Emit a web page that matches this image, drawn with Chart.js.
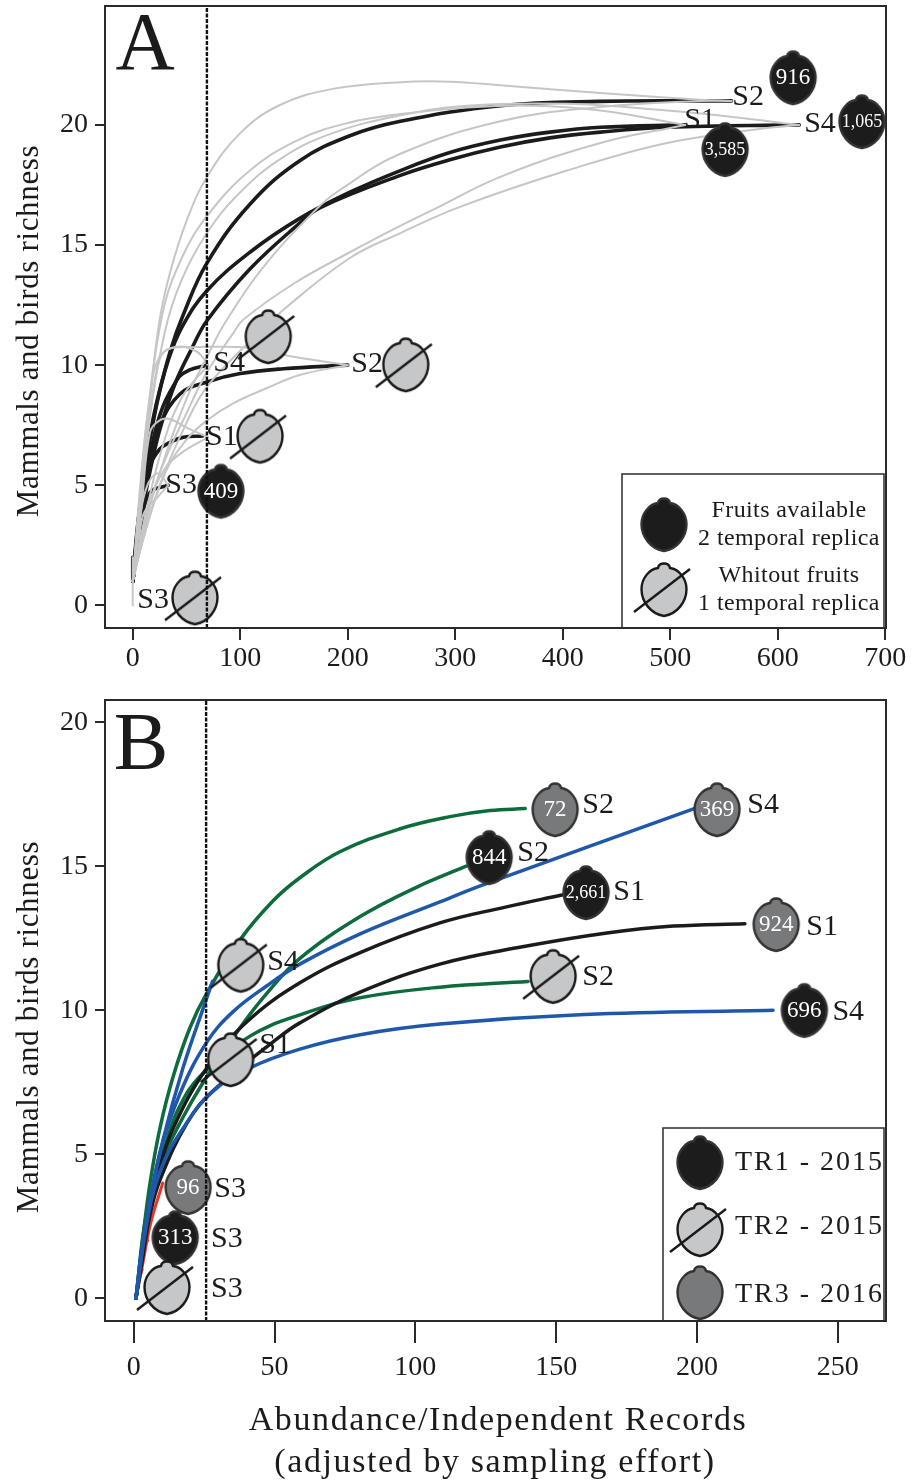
<!DOCTYPE html>
<html><head><meta charset="utf-8">
<script src="https://cdn.jsdelivr.net/npm/chart.js@4"></script>
<style>html,body{margin:0;padding:0;background:#fff}canvas{position:absolute;left:0}</style>
</head><body>
<canvas id="a" width="914" height="690" style="top:0"></canvas>
<canvas id="b" width="914" height="793" style="top:690px"></canvas>
<script>
// ---------- Panel A data ----------
const aBlackS2big=[[0,1],[4,3.1],[10,5.2],[16,6.9],[24,8.7],[35,10.6],[47,12.1],[69,14.25],[109,16.7],[155,18.5],[202,19.55],[249,20.15],[342,20.8],[434,20.98],[557,21]];
const aBlackS1big=[[0,1],[4,3],[9,5],[15,6.8],[22,8.4],[33,10.2],[46,11.6],[69,13.1],[109,14.7],[155,16.1],[202,17.2],[249,18.1],[295,18.85],[342,19.37],[388,19.7],[435,19.9],[514,20]];
const aBlackS4big=[[0,1],[5,2.6],[11,4.4],[18,6],[27,7.6],[40,9.3],[55,10.7],[69,11.85],[109,14],[155,15.9],[174,16.55],[249,17.9],[295,18.55],[342,19.08],[388,19.46],[435,19.7],[497,19.9],[620,20]];
const aBlackS4small=[[0,1],[5,2.8],[12,5],[23,7.6],[41,9.38],[53,9.8],[69,10]];
const aBlackS2small=[[0,1],[4,2.5],[9,4.4],[16,6.2],[25,7.5],[44,8.8],[69,9.3],[100,9.65],[140,9.85],[200,10]];
const aBlackS1small=[[0,1],[4,2.5],[9,4.2],[16,5.8],[25,6.5],[35,6.8],[47,7],[65,7.05]];
const aBlackS3small=[[0,1],[3,2],[8,3.5],[16,4.7],[33,5]];
const aBlackS3zero=[[0,2],[0,1]];
const aGrayS2upper=[[0,1],[7,4.4],[16,8.55],[25,11.88],[35,13.9],[50,16],[69,17.83],[100,19.66],[137,20.83],[186,21.5],[249,21.78],[295,21.8],[342,21.65],[435,21.33],[528,21.05],[557,21]];
const aGrayS1upper=[[0,1],[6,4],[14,8],[28,12.2],[45,14.4],[69,16.2],[109,18.1],[155,19.4],[202,20.1],[249,20.45],[311,20.72],[370,20.8],[435,20.6],[514,20]];
const aGrayS4upper=[[0,1],[6,3.6],[14,7.2],[30,11.4],[45,13.5],[69,15.5],[100,17.2],[140,18.66],[186,19.66],[249,20.4],[311,20.8],[404,20.88],[497,20.6],[558,20.33],[620,20]];
const aGrayS2lower=[[0,1],[10,3],[25,5.5],[50,8.6],[72,10.6],[85,11.7],[120,14],[171,16.5],[193,17.3],[249,18.8],[342,20.15],[435,20.75],[528,21],[557,21]];
const aGrayS1lower=[[0,1],[10,3.2],[25,5.5],[50,8],[69,9.7],[93,11.3],[103,11.9],[150,13.4],[202,14.7],[249,15.8],[279,16.46],[342,17.84],[435,19.25],[514,20]];
const aGrayS4lower=[[0,1],[10,2.8],[25,5],[50,7.6],[69,9.1],[109,11],[140,12.3],[202,14.46],[249,15.5],[305,16.6],[404,18.1],[497,19.25],[590,19.87],[620,20]];
const aGrayS4smallUp=[[0,1],[7,5],[16,8.7],[25,10.35],[41,10.77],[60,10.55],[70,10]];
const aGrayS4smallLo=[[0,1],[10,3.3],[25,6.2],[45,8.6],[70,10]];
const aGrayS2smallUp=[[0,1],[8,5],[16,8],[24,10.1],[32,10.65],[56,10.75],[112,10.72],[143,10.4],[200,10]];
const aGrayS2smallLo=[[0,1],[10,2.8],[30,5.5],[50,6.9],[69,7.7],[93,8.4],[125,9.05],[156,9.6],[200,10]];
const aGrayS1smallUp=[[0,1],[8,4],[16,7.2],[25,7.7],[35,7.75],[50,7.4],[70,7]];
const aGrayS1smallLo=[[0,1],[6,2.5],[15,4.2],[30,5.7],[47,6.4],[70,7]];
const aGrayS3smallUp=[[0,1],[5,3],[12,4.8],[23,5.5],[33,5]];
const aGrayS3smallLo=[[0,1],[5,2.2],[10,3.8],[23,4.5],[33,5]];
const aGrayS3zero=[[0,2],[0,0]];
const aCutoff=69;
const aFruitPoints=[[614.3,21.95],[551,18.96],[678.3,20.12],[82,4.74],[126,11.17],[254,10],[118.4,7.03],[57.9,0.3]];
const aFruitCounts=['916','3,585','1,065','409','','','',''];
const aFruitKinds=['available','available','available','available','none','none','none','none'];
const aSiteLabels=['S2','S1','S4','S4','S2','S1','S3','S3'];
const aSitePoints=[[572.4,21.16],[527.7,20.2],[639.3,20.04],[89.6,10.09],[218,10.05],[83,7.01],[45,5.01],[18.9,0.23]];
const aXTicks=[0,100,200,300,400,500,600,700];
const aYTicks=[0,5,10,15,20];
const aLegendLines=['Fruits available','2 temporal replica','Whitout fruits','1 temporal replica'];

// ---------- Panel B data ----------
const bGreenS2top=[[0.8,0],[3,1.9],[5.8,4],[9.3,5.9],[14,7.7],[20,9.4],[26,10.6],[37.8,12.45],[49.5,13.8],[59,14.6],[73.2,15.5],[94.6,16.3],[112.3,16.72],[126.5,16.93],[139,17]];
const bGreenS2mid=[[0.8,0],[3,1.6],[6,3.2],[9.3,4.6],[17.6,6.3],[26,7.7],[37.8,9.4],[47.4,10.6],[59,11.8],[80.4,13.25],[100,14.25],[118,15]];
const bGreenS2low=[[0.8,0],[4.5,2.9],[11.8,5.5],[16,6.6],[23.5,7.7],[41.3,9.1],[59,9.84],[80.4,10.43],[108.7,10.8],[140,11]];
const bBlackS1top=[[0.8,0],[3,1.5],[5,2.8],[8.2,4.2],[14,5.9],[26,8],[40.2,9.6],[59,10.95],[80.4,12],[108.7,13.03],[132,13.58],[152,14]];
const bBlackS1low=[[0.8,0],[3,1.3],[5.8,2.9],[9.3,4.1],[19,6.1],[28.2,7.2],[49.5,8.9],[59,9.56],[80.4,10.63],[108.7,11.6],[138,12.2],[168,12.68],[191.6,12.92],[217,13]];
const bBlueS4top=[[0.8,0],[4.7,2.7],[9.3,5.05],[16.4,7.1],[26,8.9],[35.3,9.95],[47.3,10.85],[59,11.6],[80.4,12.65],[108.7,13.76],[124,14.35],[199,17]];
const bBlueS4short=[[0.8,0],[3,1.7],[5.8,3.4],[10.4,5.5],[17.5,8],[25.7,10.36],[28,11]];
const bBlueS4low=[[0.8,0],[3.3,1.9],[9.3,4.4],[18.9,6.1],[28.2,7.2],[41.3,8],[59,8.65],[80.4,9.15],[108.7,9.52],[160,9.85],[227,10]];
const bRedS3a=[[0.8,0],[3,1.1],[6,2.6],[10.3,4]];
const bRedS3b=[[0.8,0],[2.5,1.2],[3.8,1.9],[5,2]];
const bRedS3c=[[0.8,0],[2,0.7],[3,1]];
const bCutoff=25.7;
const bFruitPoints=[[149.6,16.95],[207.1,16.95],[126.2,15.29],[160.6,14.07],[228.1,12.96],[148.9,11.16],[238.1,9.98],[38,11.55],[34.4,8.27],[19.3,3.83],[14.7,2.09],[11.8,0.36]];
const bFruitCounts=['72','369','844','2,661','924','','696','','','96','313',''];
const bFruitKinds=['tr3','tr3','tr1','tr1','tr3','tr2','tr1','tr2','tr2','tr3','tr1','tr2'];
const bSiteLabels=['S2','S4','S2','S1','S1','S2','S4','S4','S1','S3','S3','S3'];
const bSitePoints=[[164.9,17.13],[223.5,17.13],[141.8,15.46],[175.9,14.11],[244.4,12.89],[164.9,11.16],[253.7,9.94],[53,11.68],[50.2,8.8],[34.2,3.8],[33.1,2.06],[33.1,0.32]];
const bXTicks=[0,50,100,150,200,250];
const bYTicks=[0,5,10,15,20];
const bLegendLines=['TR1 - 2015','TR2 - 2015','TR3 - 2016'];

const yTitle='Mammals and birds richness';
const xTitle=['Abundance/Independent Records','(adjusted by sampling effort)'];

// ---------- drawing helpers ----------
const SERIF='"Liberation Serif","Times New Roman",serif';
const INK='#1b1b1b', GRAYLINE='#c6c6c6', GREEN='#0d6b3c', BLUE='#1f58ab', RED='#e8352b';
const KIND={available:{fill:'#1c1c1c',stroke:'#333',slash:false},tr1:{fill:'#1c1c1c',stroke:'#333',slash:false},
  none:{fill:'#c5c7c9',stroke:'#1a1a1a',slash:true},tr2:{fill:'#c5c7c9',stroke:'#1a1a1a',slash:true},
  tr3:{fill:'#77797b',stroke:'#333',slash:false}};
function fruit(kind){
  const s=KIND[kind],c=document.createElement('canvas');c.width=72;c.height=72;
  const g=c.getContext('2d');g.translate(36,36);
  g.beginPath();g.moveTo(-6,-22);
  g.bezierCurveTo(-5,-28,5,-28,6,-22);
  g.bezierCurveTo(15,-21,22.5,-11,22.5,-1);
  g.bezierCurveTo(22.5,12,13,24,0,26);
  g.bezierCurveTo(-13,24,-22.5,12,-22.5,-1);
  g.bezierCurveTo(-22.5,-11,-15,-21,-6,-22);
  g.closePath();g.fillStyle=s.fill;g.fill();g.lineWidth=2.4;g.strokeStyle=s.stroke;g.stroke();
  if(s.slash){g.beginPath();g.moveTo(-30,22);g.lineTo(26,-21);g.lineWidth=2.4;g.strokeStyle='#1a1a1a';g.stroke();}
  return c;
}
const toXY=a=>a.map(p=>({x:p[0],y:p[1]}));
const curve=(d,color,w,order)=>({data:toXY(d),showLine:true,borderColor:color,borderWidth:w,pointRadius:0,fill:false,
  tension:0.4,borderCapStyle:'round',borderJoinStyle:'round',order});
const cutoff=(x,min,max)=>({data:[{x,y:min},{x,y:max}],showLine:true,borderColor:'#111',borderWidth:2.4,borderDash:[4,1.5],pointRadius:0,order:0});
const fruits=(pts,kinds)=>({data:toXY(pts),showLine:false,pointStyle:kinds.map(fruit),pointRadius:26,order:1});

const panelPlugin={id:'panel',afterDatasetsDraw(chart,_,o){
  const {ctx,chartArea:A,scales:{x,y}}=chart;
  ctx.save();ctx.textBaseline='middle';ctx.textAlign='center';ctx.fillStyle=INK;
  // site labels
  ctx.font='30px '+SERIF;
  o.sites.forEach((t,i)=>ctx.fillText(t,x.getPixelForValue(o.sitePts[i][0]),y.getPixelForValue(o.sitePts[i][1])));
  // counts on fruits
  ctx.fillStyle='#fff';
  o.counts.forEach((t,i)=>{ if(!t)return;
    ctx.font=(t.length>3?'18':'23')+'px '+SERIF;
    const dx=x.getPixelForValue(o.fruitPts[i][0]),dy=y.getPixelForValue(o.fruitPts[i][1]);
    ctx.fillText(t,dx,dy);});
  ctx.fillStyle=INK;
  // panel letter
  ctx.font=o.letterFont+' '+SERIF;ctx.fillText(o.letter,o.letterX,o.letterY);
  // legend
  const L=o.legend;
  ctx.fillStyle='#fff';ctx.fillRect(L.x,L.y,A.right-L.x,A.bottom-L.y);
  ctx.strokeStyle='#3a3a3a';ctx.lineWidth=1.6;ctx.strokeRect(L.x,L.y,A.right-2-L.x,A.bottom-L.y);
  // frame
  ctx.strokeStyle='#2a2a2a';ctx.lineWidth=2;ctx.strokeRect(A.left,A.top,A.right-A.left,A.bottom-A.top);
  L.icons.forEach(ic=>{const c=fruit(ic.k);ctx.drawImage(c,ic.x-36,ic.y-36);});
  ctx.fillStyle=INK;ctx.font=L.font+' '+SERIF;ctx.letterSpacing=L.spacing;ctx.textAlign=L.align;
  L.lines.forEach((t,i)=>ctx.fillText(t,L.tx,L.ty[i]));
  // axis titles
  ctx.textAlign='center';ctx.font=o.yFont+' '+SERIF;ctx.letterSpacing=o.ySpacing;
  ctx.translate(o.yX,o.yY);ctx.rotate(-Math.PI/2);ctx.fillText(yTitle,0,0);ctx.setTransform(1,0,0,1,0,0);
  if(o.xLines){ctx.font=o.xFont+' '+SERIF;ctx.letterSpacing=o.xSpacing;o.xLines.forEach((t,i)=>ctx.fillText(t,o.xPos[i][0],o.xPos[i][1]));}
  ctx.letterSpacing='0px';
  ctx.restore();
}};
function axisOpts(min,max,ticks,extra){
  return Object.assign({type:'linear',min,max,
    border:{display:true,color:'#2a2a2a',width:2},
    grid:{drawOnChartArea:false,drawTicks:true,tickLength:extra.len,color:'#2a2a2a',lineWidth:2},
    afterBuildTicks(s){s.ticks=ticks.map(v=>({value:v}));},
    ticks:{includeBounds:false,color:INK,font:{family:SERIF,size:28},maxRotation:0,autoSkip:false,padding:extra.pad,callback:v=>String(v)},
  },extra.fit);
}
function build(id,datasets,cfg,plug){
  new Chart(document.getElementById(id),{type:'scatter',data:{datasets},plugins:[panelPlugin],options:{
    responsive:false,animation:false,events:[],
    layout:{padding:cfg.pad,autoPadding:false},
    plugins:{legend:{display:false},tooltip:{enabled:false},title:{display:false},panel:plug},
    scales:{
      x:axisOpts(cfg.xmin,cfg.xmax,cfg.xt,{len:cfg.xlen,pad:cfg.xpad,fit:{afterFit(s){s.height=cfg.xh;s.paddingLeft=0;s.paddingRight=0;if(s._margins){s._margins.left=0;s._margins.right=0;}}}}),
      y:axisOpts(cfg.ymin,cfg.ymax,cfg.yt,{len:10,pad:7,fit:{afterFit(s){s.width=105;s.paddingTop=0;s.paddingBottom=0;if(s._margins){s._margins.top=0;s._margins.bottom=0;}}}})
    }}});
}
const g=2,k=3.6;
build('a',[
  cutoff(aCutoff,-0.94,24.95),
  fruits(aFruitPoints,aFruitKinds),
  ...[aGrayS2upper,aGrayS1upper,aGrayS4upper,aGrayS2lower,aGrayS1lower,aGrayS4lower,aGrayS4smallUp,aGrayS4smallLo,aGrayS2smallUp,aGrayS2smallLo,aGrayS1smallUp,aGrayS1smallLo,aGrayS3smallUp,aGrayS3smallLo,aGrayS3zero].map(d=>curve(d,GRAYLINE,g,2)),
  ...[aBlackS2big,aBlackS1big,aBlackS4big,aBlackS4small,aBlackS2small,aBlackS1small,aBlackS3small,aBlackS3zero].map(d=>curve(d,INK,k,3))
],{pad:{left:0,top:6,right:28,bottom:0},xmin:-25.8,xmax:700.7,ymin:-0.94,ymax:24.95,xt:aXTicks,yt:aYTicks,xh:62,xlen:12,xpad:2},
{sites:aSiteLabels,sitePts:aSitePoints,counts:aFruitCounts,fruitPts:aFruitPoints,letter:'A',letterFont:'82px',letterX:145,letterY:47,
 legend:{x:622,y:474,lines:aLegendLines,font:'24px',spacing:'0.4px',align:'center',tx:789,ty:[511,539,576,604],icons:[{k:'available',x:664,y:525},{k:'none',x:664,y:590}]},
 yFont:'31px',ySpacing:'0.65px',yX:30,yY:331});

build('b',[
  cutoff(bCutoff,-0.79,20.77),
  fruits(bFruitPoints,bFruitKinds),
  ...[bBlueS4top,bBlueS4short,bBlueS4low].map(d=>curve(d,BLUE,3.5,2)),
  ...[bBlackS1top,bBlackS1low].map(d=>curve(d,INK,3.5,3)),
  ...[bGreenS2top,bGreenS2mid,bGreenS2low].map(d=>curve(d,GREEN,3.5,4)),
  ...[bRedS3a,bRedS3b,bRedS3c].map(d=>curve(d,RED,3,5))
],{pad:{left:0,top:10,right:28,bottom:0},xmin:-10.2,xmax:267.1,ymin:-0.79,ymax:20.77,xt:bXTicks,yt:bYTicks,xh:162,xlen:22,xpad:8},
{sites:bSiteLabels,sitePts:bSitePoints,counts:bFruitCounts,fruitPts:bFruitPoints,letter:'B',letterFont:'82px',letterX:141,letterY:57,
 legend:{x:663,y:438,lines:bLegendLines,font:'28px',spacing:'2px',align:'right',tx:884,ty:[473,537,605],icons:[{k:'tr1',x:700,y:473},{k:'tr2',x:700,y:540},{k:'tr3',x:700,y:603}]},
 yFont:'31px',ySpacing:'0.65px',yX:30,yY:337,
 xLines:xTitle,xFont:'34px',xSpacing:'1.6px',xPos:[[498,731],[495,773]]});
</script>
</body></html>
